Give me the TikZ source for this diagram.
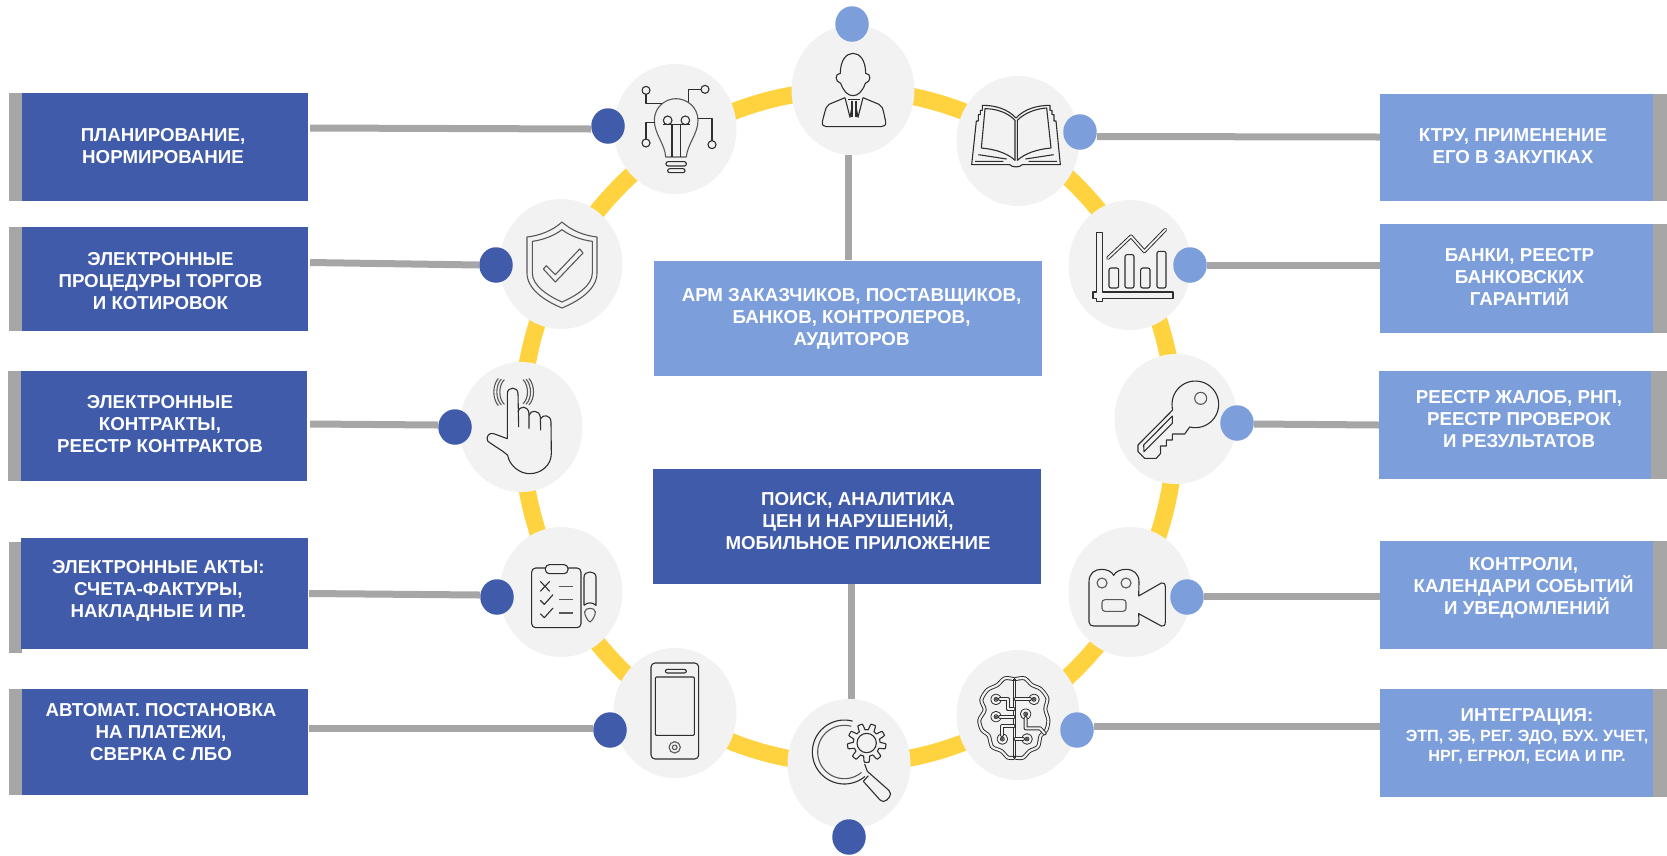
\documentclass[tikz,border=0pt]{standalone}
\usepackage{fontspec}
\setmainfont{Liberation Sans}
\usetikzlibrary{shapes.geometric,calc}
\definecolor{darkb}{HTML}{3F5BAA}
\definecolor{lightb}{HTML}{7C9EDB}
\definecolor{ringy}{HTML}{FFD340}
\definecolor{greyc}{HTML}{A6A6A6}
\definecolor{halo}{HTML}{F2F2F2}
\definecolor{inkc}{HTML}{2E2E2E}
\tikzset{
 halonode/.style={shape=ellipse,fill=halo,inner sep=0pt,minimum width=123pt,minimum height=130pt},
 dotnode/.style={shape=ellipse,inner sep=0pt,minimum width=33.5pt,minimum height=35.5pt},
 darkdot/.style={dotnode,fill=darkb},
 lightdot/.style={dotnode,fill=lightb},
 boxnode/.style={rectangle,inner sep=0pt},
 darkbox/.style={boxnode,fill=darkb},
 lightbox/.style={boxnode,fill=lightb},
 barnode/.style={boxnode,fill=greyc},
 lab/.style={text=white,align=center,inner sep=0pt,font=\bfseries\fontsize{18.7}{22}\selectfont},
 labsmall/.style={text=white,align=center,inner sep=0pt,font=\bfseries\fontsize{16.2}{20}\selectfont},
 wire/.style={draw=greyc,line width=7pt},
 icon/.style={shift={(#1.center)},scale=0.3333},
 ic/.style={draw=inkc,line width=1.1pt,line join=round},
 icg/.style={draw=inkc!80,line width=1.1pt,line join=round},
 icd/.style={draw=inkc,line width=0.95pt,double=halo,double distance=2.1pt,line join=round,line cap=round},
}
\begin{document}
\begin{tikzpicture}[x=1pt,y=-1pt]
\useasboundingbox (0,0) rectangle (1667,855);
% ring
\draw[ringy,line width=17pt] (848.5,427) circle [x radius=327pt,y radius=337pt];
% halos
\node[halonode] (person) at (853,90) {};
\node[halonode] (bulb) at (675,129) {};
\node[halonode] (book) at (1018,141) {};
\node[halonode] (shield) at (561,264) {};
\node[halonode] (chart) at (1130,265) {};
\node[halonode] (hand) at (521,427) {};
\node[halonode] (key) at (1176,419) {};
\node[halonode] (clip) at (561,592) {};
\node[halonode] (camera) at (1130,592) {};
\node[halonode] (phone) at (675,713) {};
\node[halonode] (brain) at (1018,715) {};
\node[halonode] (search) at (849,764) {};
% boxes
\node[barnode,minimum width=13pt,minimum height=108pt] (lb1) at (15.5,147) {};
\node[darkbox,minimum width=286pt,minimum height=108pt] (l1) at (165,147) {};
\node[barnode,minimum width=13pt,minimum height=104pt] (lb2) at (15.5,279) {};
\node[darkbox,minimum width=286pt,minimum height=104pt] (l2) at (165,279) {};
\node[barnode,minimum width=13pt,minimum height=110pt] (lb3) at (14.5,426) {};
\node[darkbox,minimum width=286pt,minimum height=110pt] (l3) at (164,426) {};
\node[barnode,minimum width=13pt,minimum height=111pt] (lb4) at (15,597.5) {};
\node[darkbox,minimum width=287pt,minimum height=111pt] (l4) at (164.5,593.5) {};
\node[barnode,minimum width=13pt,minimum height=106pt] (lb5) at (15.5,742) {};
\node[darkbox,minimum width=286pt,minimum height=106pt] (l5) at (165,742) {};
\node[barnode,minimum width=14pt,minimum height=107pt] (rb1) at (1660,147.5) {};
\node[lightbox,minimum width=273pt,minimum height=107pt] (r1) at (1516.5,147.5) {};
\node[barnode,minimum width=14pt,minimum height=109pt] (rb2) at (1660,278.5) {};
\node[lightbox,minimum width=273pt,minimum height=109pt] (r2) at (1516.5,278.5) {};
\node[barnode,minimum width=16pt,minimum height=107.5pt] (rb3) at (1658.5,425) {};
\node[lightbox,minimum width=272pt,minimum height=107.5pt] (r3) at (1515,425) {};
\node[barnode,minimum width=14pt,minimum height=108pt] (rb4) at (1660,595) {};
\node[lightbox,minimum width=273pt,minimum height=108pt] (r4) at (1516.5,595) {};
\node[barnode,minimum width=14pt,minimum height=108pt] (rb5) at (1660,743) {};
\node[lightbox,minimum width=273pt,minimum height=108pt] (r5) at (1516.5,743) {};
\node[lightbox,minimum width=388pt,minimum height=115pt] (cl) at (848,318) {};
\node[darkbox,minimum width=388pt,minimum height=115pt] (cd) at (847,526.5) {};
% dots
\node[lightdot] (dperson) at (852,24) {};
\node[darkdot] (dbulb) at (608,126) {};
\node[lightdot] (dbook) at (1080,132) {};
\node[darkdot] (dshield) at (496,265) {};
\node[lightdot] (dchart) at (1190,265) {};
\node[darkdot] (dhand) at (455,427) {};
\node[lightdot] (dkey) at (1237,423) {};
\node[darkdot] (dclip) at (497,597) {};
\node[lightdot] (dcamera) at (1187,597) {};
\node[darkdot] (dphone) at (610,730) {};
\node[lightdot] (dbrain) at (1077,730) {};
\node[darkdot] (dsearch) at (849,837) {};
% connectors
\draw[wire] ([xshift=2pt,yshift=19pt]l1.east) -- ([yshift=-3pt]dbulb.west);
\draw[wire] ([xshift=2pt,yshift=16.5pt]l2.east) -- (dshield.west);
\draw[wire] ([xshift=3pt,yshift=2pt]l3.east) -- ([yshift=2pt]dhand.west);
\draw[wire] ([xshift=1pt]l4.east) -- ([yshift=2pt]dclip.west);
\draw[wire] ([xshift=1pt,yshift=14pt]l5.east) -- ([yshift=2pt]dphone.west);
\draw[wire] ([yshift=10.5pt]r1.west) -- ([yshift=-4.5pt]dbook.east);
\draw[wire] ([yshift=13.5pt]r2.west) -- (dchart.east);
\draw[wire] (r3.west) -- ([yshift=-1pt]dkey.east);
\draw[wire] ([yshift=-1pt]r4.west) -- ([yshift=1pt]dcamera.east);
\draw[wire] ([yshift=17pt]r5.west) -- ([yshift=4pt]dbrain.east);
\draw[wire] (person.south -| cl.north) -- (cl.north);
\draw[wire] ([xshift=4pt]cd.south) -- ([xshift=2pt]search.north);
% labels
\node[lab] (t1) at (163,146.5) {ПЛАНИРОВАНИЕ,\\НОРМИРОВАНИЕ};
\node[lab] (t2) at (160.5,281) {ЭЛЕКТРОННЫЕ\\ПРОЦЕДУРЫ ТОРГОВ\\И КОТИРОВОК};
\node[lab] (t3) at (160,424) {ЭЛЕКТРОННЫЕ\\КОНТРАКТЫ,\\РЕЕСТР КОНТРАКТОВ};
\node[lab] (t4) at (158.4,591) {ЭЛЕКТРОННЫЕ АКТЫ:\\СЧЕТА-ФАКТУРЫ,\\НАКЛАДНЫЕ И ПР.};
\node[lab] (t5) at (161,732.5) {АВТОМАТ. ПОСТАНОВКА\\НА ПЛАТЕЖИ,\\СВЕРКА С ЛБО};
\node[lab] (t6) at (1513,146) {КТРУ, ПРИМЕНЕНИЕ\\ЕГО В ЗАКУПКАХ};
\node[lab] (t7) at (1519.5,277) {БАНКИ, РЕЕСТР\\БАНКОВСКИХ\\ГАРАНТИЙ};
\node[lab] (t8) at (1519,419) {РЕЕСТР ЖАЛОБ, РНП,\\РЕЕСТР ПРОВЕРОК\\И РЕЗУЛЬТАТОВ};
\node[lab] (t9) at (1523.5,588) {КОНТРОЛИ,\\КАЛЕНДАРИ СОБЫТИЙ\\\hspace*{7pt}И УВЕДОМЛЕНИЙ};
\node[lab] (t10) at (1527,717) {ИНТЕГРАЦИЯ:};
\node[labsmall] (t11) at (1527,747) {ЭТП, ЭБ, РЕГ. ЭДО, БУХ. УЧЕТ,\\НРГ, ЕГРЮЛ, ЕСИА И ПР.};
\node[lab] (t12) at (851.5,318.5) {АРМ ЗАКАЗЧИКОВ, ПОСТАВЩИКОВ,\\БАНКОВ, КОНТРОЛЕРОВ,\\АУДИТОРОВ};
\node[lab] (t13) at (858,521.5) {ПОИСК, АНАЛИТИКА\\ЦЕН И НАРУШЕНИЙ,\\МОБИЛЬНОЕ ПРИЛОЖЕНИЕ};
% --- icons
\begin{scope}[icon=person]
\draw[ic] (-38,-50) .. controls (-38,-90) and (-20,-110) .. (0,-110) .. controls (20,-110) and (38,-90) .. (38,-50) .. controls (55,-50) and (55,-25) .. (37,-20) .. controls (28,5) and (15,17) .. (0,17) .. controls (-15,17) and (-28,5) .. (-37,-20) .. controls (-55,-25) and (-55,-50) .. (-38,-50) -- cycle;
\draw[ic] (-24,23) -- (-72,43) .. controls (-80,48) .. (-92,95) .. controls (-94,105) and (-88,110) .. (-80,110) -- (85,110) .. controls (93,110) and (100,105) .. (98,95) .. controls (88,48) .. (78,43) -- (30,23);
\draw[ic] (-24,23) -- (-9,82) -- (-3,50);
\draw[ic] (30,23) -- (15,82) -- (9,50);
\draw[ic] (-14,28) -- (20,28);
\draw[ic] (-3,32) -- (-3,80) (9,32) -- (9,80);
\end{scope}
\begin{scope}[icon=bulb]
\draw[icg] (-28,84) .. controls (-30,45) and (-62,15) .. (-62,-26) .. controls (-62,-65) and (-30,-91) .. (3,-91) .. controls (36,-91) and (69,-65) .. (69,-26) .. controls (69,15) and (37,45) .. (34,84) -- cycle;
\draw[ic] (-9,-14) -- (-9,84) (16,-14) -- (16,84);
\draw[ic] (-35,-14) -- (45,-14);
\draw[ic] (-22,-26) circle [radius=13] (31,-26) circle [radius=13];
\draw[ic,rounded corners=2pt] (-27,98) rectangle (34,111);
\draw[ic,rounded corners=2pt] (-22,119) rectangle (30,131);
\draw[ic] (-87,-116) circle [radius=12] (90,-119) circle [radius=12] (-87,42) circle [radius=12] (111,47) circle [radius=12];
\draw[ic] (-87,-104) -- (-87,-77) -- (-39,-77);
\draw[ic] (78,-119) -- (41,-119) -- (41,-81);
\draw[ic] (-87,30) -- (-87,-19) -- (-59,-19);
\draw[ic] (111,35) -- (111,-31) -- (69,-31);
\end{scope}
\begin{scope}[icon=book]
\draw[ic] (-139,71) -- (-125,-60) -- (-119,-60) -- (-119,-79) -- (-113,-79) -- (-113,-92) -- (-107,-92) -- (-107,-107) .. controls (-65,-107) and (-30,-95) .. (-6,-69) .. controls (18,-95) and (55,-107) .. (96,-107) -- (96,-92) -- (102,-92) -- (102,-79) -- (108,-79) -- (108,-60) -- (114,-60) -- (127,71) -- (13,71) .. controls (5,80) and (-17,80) .. (-25,71) -- cycle;
\draw[ic] (-99,-97) -- (-110,21) .. controls (-65,25) and (-30,38) .. (-9,58) -- (-9,-62) .. controls (-30,-85) and (-65,-97) .. (-99,-97) -- cycle;
\draw[ic] (86,-99) -- (99,21) .. controls (55,25) and (20,38) .. (-2,58) -- (-2,-62) .. controls (20,-85) and (55,-97) .. (86,-99) -- cycle;
\draw[ic] (-119,41) -- (-34,54) (-129,61) -- (-44,61) (107,41) -- (22,54) (117,61) -- (32,61);
\end{scope}
\begin{scope}[icon=shield]
\draw[icg] (3,-126) .. controls (-25,-100) and (-65,-85) .. (-102,-81) -- (-102,27) .. controls (-102,75) and (-50,110) .. (3,132) .. controls (56,110) and (108,75) .. (108,27) -- (108,-81) .. controls (71,-85) and (31,-100) .. (3,-126) -- cycle;
\draw[icg] (3,-103) .. controls (-20,-85) and (-55,-72) .. (-86,-68) -- (-86,27) .. controls (-86,65) and (-40,95) .. (3,114) .. controls (46,95) and (94,65) .. (94,27) -- (94,-68) .. controls (61,-72) and (26,-85) .. (3,-103) -- cycle;
\draw[icg] (-53,15) -- (-17,54) -- (66,-33) -- (56,-45) -- (-17,32) -- (-44,5) -- cycle;
\end{scope}
\begin{scope}[icon=hand]
\draw[ic] (-7,0) -- (-9,-100) .. controls (-9,-122) and (-41,-122) .. (-41,-100) -- (-41,35) -- (-82,20) .. controls (-96,15) and (-106,30) .. (-100,42) .. controls (-85,55) and (-55,70) .. (-40,85) .. controls (-35,115) and (-5,140) .. (26,140) .. controls (60,140) and (91,115) .. (91,80) -- (90,-15) .. controls (89,-38) and (65,-38) .. (59,-25);
\draw[ic] (-9,-45) .. controls (-5,-65) and (22,-65) .. (24,-40) -- (24,5);
\draw[ic] (24,-35) .. controls (28,-52) and (55,-52) .. (58,-30) -- (59,10);
\foreach \d in {0,9,18}{
\draw[icg] (-50-\d,-68+\d*0.2) .. controls (-68-\d,-85) and (-68-\d,-125) .. (-50-\d,-142-\d*0.2);
\draw[icg] (6+\d,-70+\d*0.2) .. controls (24+\d,-85) and (24+\d,-125) .. (6+\d,-142-\d*0.2);
}
\end{scope}
\begin{scope}[icon=clip]
\draw[ic,rounded corners=4pt] (-88,-72) rectangle (60,107);
\draw[ic,fill=halo,rounded corners=4pt] (-47,-82) rectangle (21,-55);
\draw[ic] (-62,-32) -- (-34,-2) (-34,-32) -- (-62,-2);
\draw[ic] (-62,25) -- (-50,37) -- (-24,8);
\draw[ic] (-62,65) -- (-50,77) -- (-24,48);
\draw[icg,line width=1.3pt] (-5,-17) -- (35,-17) (-5,23) -- (35,23) (-5,63) -- (35,63);
\draw[ic] (69,40) -- (69,-45) .. controls (69,-65) and (105,-65) .. (105,-45) -- (105,40) .. controls (95,30) and (79,30) .. (69,40);
\draw[icg] (71,60) .. controls (71,45) and (103,45) .. (103,60) .. controls (103,70) and (95,85) .. (87,90) .. controls (79,85) and (71,70) .. (71,60) -- cycle;
\end{scope}
\begin{scope}[icon=phone]
\draw[ic,rounded corners=4pt] (-72,-150) rectangle (71,138);
\draw[ic,rounded corners=1pt] (-59,-108) rectangle (58,67);
\draw[ic,rounded corners=2pt] (-29,-131) rectangle (34,-120);
\draw[icg] (-1,103) circle [radius=17] (-1,103) circle [radius=7];
\end{scope}
\begin{scope}[icon=search]
\draw[ic] plot[smooth,domain=50:285,samples=40] ({-14+96*cos(\x)},{-36+96*sin(\x)});
\draw[icg] plot[smooth,domain=50:285,samples=40] ({-14+80*cos(\x)},{-36+80*sin(\x)});
\draw[ic] plot[domain=0:360,samples=217] ({53+(49+9*max(-1,min(1,2.5*sin(9*\x))))*cos(\x)},{-63+(49+9*max(-1,min(1,2.5*sin(9*\x))))*sin(\x)}) -- cycle;
\draw[ic] (53,-63) circle [radius=29];
\draw[ic,rounded corners=5pt] (55,22) -- (131,89) -- (103,119) -- (43,52);
\draw[ic] (43,52) -- (58,35) (55,22) -- (47,0);
\end{scope}
\begin{scope}[icon=brain]
\draw[icd] plot[smooth] coordinates {(-13,-108) (-40,-110) (-62,-90) (-92,-75) (-110,-45) (-100,-15) (-116,15) (-108,45) (-88,62) (-78,95) (-50,108) (-30,128) (-13,128)};
\draw[icd] plot[smooth] coordinates {(-7,-108) (20,-110) (42,-90) (68,-78) (88,-50) (82,-18) (91,15) (85,45) (68,62) (60,95) (35,108) (15,128) (-7,128)};
\draw[ic] (-13,-108) -- (-13,128) (-7,-108) -- (-7,128);
\foreach \p in {(-66,-47),(-66,5),(-47,72),(48,-47),(23,-3),(27,72)}{
\draw[icd] \p circle [radius=11];
\draw[icg] \p circle [radius=3];
}
\draw[icd] (-54,-47) -- (-30,-47) -- (-30,-17) -- (-13,-17);
\draw[icd] (-54,5) -- (-13,5);
\draw[icd] (-47,60) -- (-47,33) -- (-13,33);
\draw[icd] (36,-47) -- (-7,-47);
\draw[icd] (23,9) -- (23,40) -- (66,40) -- (80,55);
\draw[icd] (15,72) -- (-7,72);
\end{scope}
\begin{scope}[icon=chart]
\draw[ic] (-101,-98) -- (-82,-98) -- (-82,81) -- (129,81) -- (129,100) -- (-82,100) -- (-82,110) -- (-101,110) -- (-101,100) -- (-111,100) -- (-111,81) -- (-101,81) -- cycle;
\draw[ic,rounded corners=2pt] (-63,9) rectangle (-34,69);
\draw[ic,rounded corners=2pt] (-15,-31) rectangle (12,69);
\draw[ic,rounded corners=2pt] (32,9) rectangle (60,69);
\draw[ic,rounded corners=2pt] (81,-41) rectangle (108,69);
\draw[icd,double distance=1.8pt] (-66,-21) -- (3,-86) -- (43,-41) -- (106,-106);
\end{scope}
\begin{scope}[icon=key]
\draw[ic] plot[smooth,domain=104:-194,samples=40] ({58+70*cos(\x)},{-44+70*sin(\x)}) -- (-114,78) -- (-114,98) -- (-94,118) -- (-59,118) -- (-46,103) -- (-47,81) -- (-29,81) -- (-29,63) -- (-11,63) -- (-11,45) -- (26,45) -- cycle;
\draw[icg] (74,-62) circle [radius=18];
\draw[ic] (-11,-9) -- (-97,78) -- (-96,98) -- (-11,13) -- cycle;
\end{scope}
\begin{scope}[icon=camera]
\draw[ic] (-123,-30) .. controls (-123,-58) and (-105,-68) .. (-85,-68) .. controls (-70,-68) and (-55,-62) .. (-49,-50) .. controls (-43,-62) and (-28,-68) .. (-12,-68) .. controls (10,-68) and (27,-55) .. (27,-30) -- (26,12) -- (94,-27) .. controls (100,-30) and (106,-25) .. (106,-15) -- (106,90) .. controls (106,100) and (100,105) .. (94,102) -- (26,65) -- (27,90) .. controls (27,98) and (22,102) .. (16,102) -- (-109,102) .. controls (-117,102) and (-123,98) .. (-123,90) -- cycle;
\draw[icg] (-84,-27) circle [radius=15] (-12,-27) circle [radius=15];
\draw[icg,rounded corners=3pt] (-84,23) rectangle (-12,58);
\end{scope}
\end{tikzpicture}
\end{document}
